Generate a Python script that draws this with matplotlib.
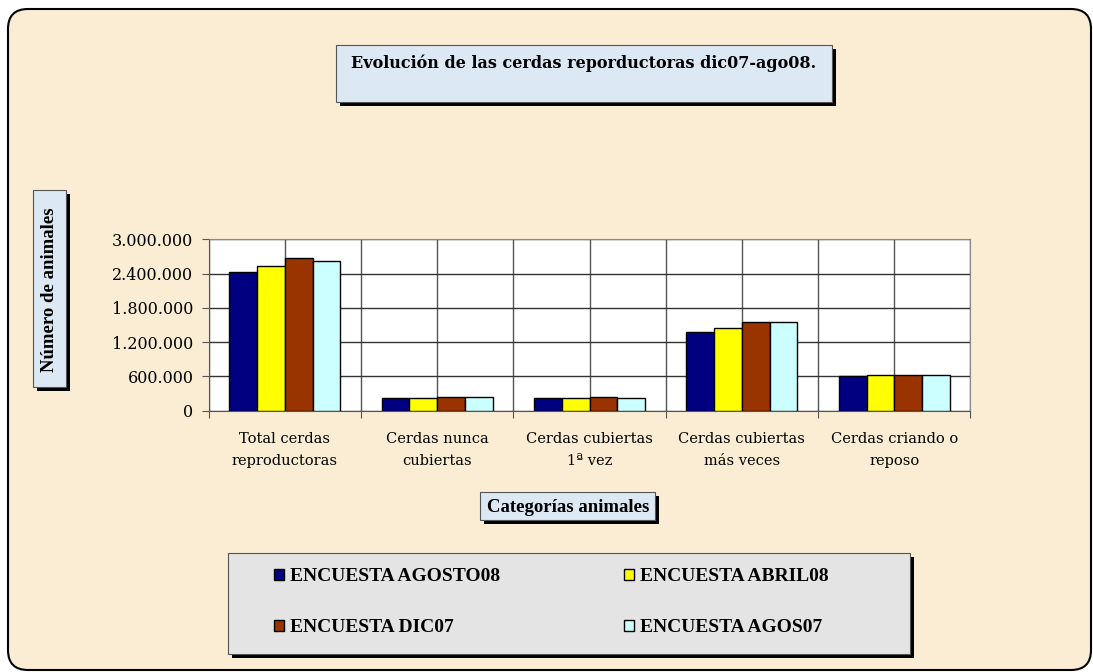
import matplotlib
matplotlib.use("Agg")
import matplotlib.pyplot as plt
import numpy as np
from matplotlib.patches import Rectangle, FancyBboxPatch

# data
categorias = ["Total cerdas\nreproductoras", "Cerdas nunca\ncubiertas",
              "Cerdas cubiertas\n1ª vez", "Cerdas cubiertas\nmás veces",
              "Cerdas criando o\nreposo"]
series = ["ENCUESTA AGOSTO08", "ENCUESTA ABRIL08", "ENCUESTA DIC07", "ENCUESTA AGOS07"]
agosto08 = [2427000, 216000, 216000, 1371000, 601000]
abril08 = [2526000, 216000, 216000, 1447000, 624000]
dic07 = [2672000, 245000, 245000, 1546000, 624000]
agos07 = [2625000, 245000, 216000, 1546000, 624000]
colores = ["#000080", "#FFFF00", "#993300", "#CCFFFF"]
yticks = [0, 600000, 1200000, 1800000, 2400000, 3000000]

W, H = 1093, 672
fig = plt.figure(figsize=(W / 100, H / 100), dpi=100)
fig.patch.set_facecolor("white")
T = fig.dpi_scale_trans
SERIF = "Liberation Serif"
WIDE = "DejaVu Serif"


def box(x0, y0, x1, y1, fc, shadow=4):
    # rectangle with a black drop shadow, pixel coords from top-left
    fig.add_artist(Rectangle(((x0 + shadow) / 100, (H - y1 - shadow) / 100),
                             (x1 - x0) / 100, (y1 - y0) / 100,
                             transform=T, fc="black", ec="none", zorder=1))
    fig.add_artist(Rectangle((x0 / 100, (H - y1) / 100), (x1 - x0) / 100, (y1 - y0) / 100,
                             transform=T, fc=fc, ec="#555555", lw=0.8, zorder=2))


# parchment background with rounded border
fig.add_artist(FancyBboxPatch((8 / 100, 2 / 100), 1083 / 100, 661 / 100,
                              boxstyle="round,pad=0,rounding_size=0.2",
                              transform=T, fc="#FAEDD3", ec="black", lw=1.5, zorder=0))

# title
box(336, 45, 832, 102, "#DCE8F4")
fig.text(584 / W, 1 - 63 / H, "Evolución de las cerdas reporductoras dic07-ago08.",
         ha="center", va="center", fontsize=11.5, fontweight="bold", family=WIDE, zorder=3)

# y label
box(33, 190, 66, 387, "#DCE8F4")
fig.text(50 / W, 1 - 290 / H, "Número de animales", rotation=90, ha="center", va="center",
         fontsize=13.5, fontweight="bold", family=SERIF, zorder=3)

# x label
box(480, 492, 655, 520, "#DCE8F4")
fig.text(568 / W, 1 - 507 / H, "Categorías animales", ha="center", va="center",
         fontsize=13.5, fontweight="bold", family=SERIF, zorder=3)

# plot area
ax = fig.add_axes([208.7 / W, 1 - 410.7 / H, 761.7 / W, 171.4 / H], zorder=4)
ax.set_facecolor("white")
x = np.arange(len(categorias))
bw = 0.182
for i, (vals, c) in enumerate(zip([agosto08, abril08, dic07, agos07], colores)):
    ax.bar(x + (i - 1.5) * bw, vals, bw, color=c, edgecolor="black", lw=1, zorder=3,
           label=series[i])

ax.set_xlim(-0.5, 4.5)
ax.set_ylim(0, 3000000)
ax.set_yticks(yticks)
ax.set_yticklabels([f"{v:,}".replace(",", ".") for v in yticks], family=WIDE, fontsize=11.5)
ax.set_xticks(np.arange(-0.5, 5, 1))
ax.set_xticklabels([])
ax.set_xticks(x, minor=True)
ax.set_xticklabels(categorias, minor=True, family=WIDE, fontsize=10.5, linespacing=1.8)
ax.tick_params(axis="x", which="minor", length=0, pad=15)
ax.tick_params(axis="x", which="major", length=5, color="#555555")
ax.tick_params(axis="y", length=5, color="#555555", pad=6)
ax.grid(True, axis="y", color="#333333", lw=1, zorder=0)
ax.grid(True, axis="x", which="both", color="#555555", lw=1, zorder=0)
for s in ["top", "right"]:
    ax.spines[s].set_color("#888888")
for s in ["left", "bottom"]:
    ax.spines[s].set_color("#555555")

# legend box
box(228, 553, 910, 654, "#E4E4E4")
handles, labels = ax.get_legend_handles_labels()
order = [0, 2, 1, 3]
leg = fig.legend([handles[k] for k in order], [labels[k] for k in order],
                 loc="upper left", bbox_to_anchor=(274 / W, 1 - 568 / H),
                 ncol=2, frameon=False, columnspacing=6.4, handlelength=0.5, handleheight=0.5,
                 handletextpad=0.3, labelspacing=1.75, borderpad=0, borderaxespad=0,
                 prop={"family": SERIF, "weight": "bold", "size": 14})
leg.set_zorder(5)

fig.savefig("out.png", dpi=100, facecolor=fig.get_facecolor())
